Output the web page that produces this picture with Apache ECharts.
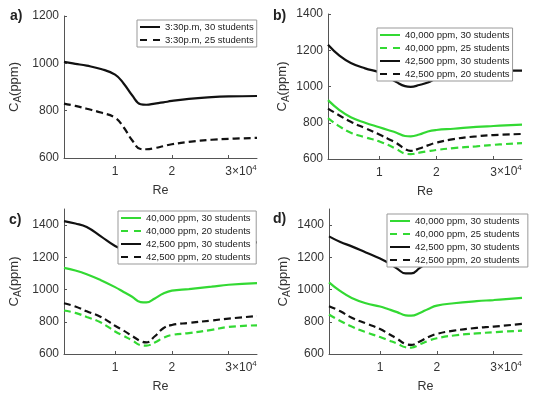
<!DOCTYPE html>
<html><head><meta charset="utf-8">
<script src="https://cdn.jsdelivr.net/npm/echarts@6/dist/echarts.min.js"></script>
<style>html,body{margin:0;padding:0;background:#fff}#c{width:550px;height:396px}</style>
</head><body><div id="c"></div>
<script>
// Re values in units of 10^4
const reE4 = [0.1,0.3,0.5,0.75,1.0,1.15,1.3,1.45,1.55,1.7,1.85,2.0,2.3,2.7,3.0,3.5];
const xTicks = [1,2,3];

// panel a
const a_30 = [1006,998,990,976,952,915,865,827,825,830,835,841,850,857,860,862];
const a_25 = [830,820,808,792,770,730,675,638,637,642,650,658,668,677,681,685];
// panel b
const b_g30 = [925,870,830,800,775,760,745,727,725,735,752,760,767,777,782,790];
const b_g25 = [825,780,745,720,697,678,655,630,627,635,643,650,660,670,678,688];
const b_k30 = [1230,1170,1130,1100,1078,1052,1024,1002,998,1008,1022,1045,1072,1085,1088,1088];
const b_k20 = [878,840,805,770,735,712,688,655,645,658,675,690,710,725,732,738];
// panel c
const c_g30 = [1135,1118,1095,1058,1015,985,955,922,920,945,975,993,1003,1018,1030,1040];
const c_g20 = [870,855,830,795,740,712,685,655,652,672,700,718,730,750,768,778];
const c_k30 = [1425,1410,1388,1330,1270,1250,1238,1228,1228,1245,1265,1275,1283,1288,1290,1293];
const c_k20 = [915,895,865,830,775,745,712,680,672,710,760,780,793,808,820,835];
// panel d
const d_g30 = [1045,990,948,915,895,878,860,840,838,855,880,900,915,928,935,948];
const d_g25 = [845,805,770,735,705,685,665,642,640,660,682,698,715,728,735,745];
const d_k30 = [1330,1295,1268,1230,1192,1165,1130,1100,1100,1135,1170,1195,1210,1218,1222,1228];
const d_k20 = [897,865,825,790,755,725,695,662,657,678,705,725,745,762,770,787];

const GREEN = '#33d933', BLACK = '#111111';
const FONT = 'Liberation Sans, Arial, sans-serif';
const pts = ys => reE4.map((x,i)=>[x, ys[i]]);

const grids = [
  {left:64, top:16, width:193, height:142},
  {left:328, top:14, width:194, height:145},
  {left:64, top:209, width:193, height:145},
  {left:329, top:209, width:193, height:145}
];
const yRanges = [[600,1200],[600,1400],[600,1500],[600,1500]];
const nameGaps = [41,37,41,37];

const xAxes = grids.map((g,i)=>({
  type:'value', gridIndex:i, min:0.1, max:3.5,
  name:'Re', nameLocation:'middle', nameGap:26,
  nameTextStyle:{fontFamily:FONT, fontSize:12.5, color:'#333'},
  axisLine:{lineStyle:{color:'#555', width:1}},
  axisTick:{inside:true, length:3, customValues:xTicks, lineStyle:{color:'#555'}},
  axisLabel:{customValues:xTicks, fontFamily:FONT, fontSize:12, color:'#333', margin:8,
    formatter: v => String(v)},
  splitLine:{show:false}
}));
const yAxes = grids.map((g,i)=>({
  type:'value', gridIndex:i, min:yRanges[i][0], max:yRanges[i][1], interval:200,
  name:'{c|C}{s|A}{c|(ppm)}', nameLocation:'middle', nameGap:nameGaps[i], nameRotate:90,
  nameTextStyle:{rich:{
    c:{fontFamily:FONT, fontSize:13, color:'#333', lineHeight:17},
    s:{fontFamily:FONT, fontSize:10, color:'#333', verticalAlign:'bottom', lineHeight:17, padding:[6,0,0,0]}
  }},
  axisLine:{show:true, lineStyle:{color:'#555', width:1}},
  axisTick:{show:true, inside:true, length:3, lineStyle:{color:'#555'}},
  axisLabel:{fontFamily:FONT, fontSize:12, color:'#333', margin:5, showMaxLabel: i>=2 ? false : true,
    formatter: v => String(v)},
  splitLine:{show:false}
}));

function line(name, idx, ys, color, dashed){
  return {type:'line', name, xAxisIndex:idx, yAxisIndex:idx, data:pts(ys),
    symbol:'none', smooth:0.45,
    lineStyle:{color, width:2.2, type: dashed ? [7,4] : 'solid'},
    itemStyle:{color}};
}
const series = [
  line('3:30p.m, 30 students',0,a_30,BLACK,false),
  line('3:30p.m, 25 students',0,a_25,BLACK,true),
  line('40,000 ppm, 30 students',1,b_g30,GREEN,false),
  line('40,000 ppm, 25 students',1,b_g25,GREEN,true),
  line('42,500 ppm, 30 students',1,b_k30,BLACK,false),
  line('42,500 ppm, 20 students',1,b_k20,BLACK,true),
  line('40,000 ppm, 30 students ',2,c_g30,GREEN,false),
  line('40,000 ppm, 20 students ',2,c_g20,GREEN,true),
  line('42,500 ppm, 30 students ',2,c_k30,BLACK,false),
  line('42,500 ppm, 20 students ',2,c_k20,BLACK,true),
  line('40,000 ppm, 30 students  ',3,d_g30,GREEN,false),
  line('40,000 ppm, 25 students  ',3,d_g25,GREEN,true),
  line('42,500 ppm, 30 students  ',3,d_k30,BLACK,false),
  line('42,500 ppm, 20 students  ',3,d_k20,BLACK,true)
];
const legendPos = [[137,20],[377,28],[118,211],[387,214]];
const legendSeries = [series.slice(0,2), series.slice(2,6), series.slice(6,10), series.slice(10,14)];
const legends = legendSeries.map((ss,i)=>({
  orient:'vertical', left:legendPos[i][0], top:legendPos[i][1],
  data: ss.map(s=>({name:s.name,
    itemStyle:{opacity:0},
    lineStyle:{color:s.lineStyle.color, width:2, type: s.lineStyle.type==='solid' ? 'solid' : [7,6]}})),
  selectedMode:false,
  itemWidth:20, itemHeight:8, itemGap:3, padding:[2,3,2,2],
  borderColor:'#999', borderWidth:1, backgroundColor:'#fff',
  textStyle:{fontFamily:FONT, fontSize:9.5, color:'#222'}
}));

const panelLabels = [['a)',10,9],['b)',273,9],['c)',9,213],['d)',273,212]];
const expPos = [[232,164],[497,164],[232,360],[497,360]];
const graphics = [];
panelLabels.forEach(p=>graphics.push({type:'text', left:p[1], top:p[2],
  style:{text:p[0], font:'bold 14px '+FONT, fill:'#222'}}));
expPos.forEach(p=>graphics.push({type:'text', left:p[0], top:p[1],
  style:{text:'×10{s|4}', font:'12px '+FONT, fill:'#333',
    rich:{s:{fontSize:8, fontFamily:FONT, fill:'#333', verticalAlign:'top', padding:[0,0,8,0]}}}}));

const chart = echarts.init(document.getElementById('c'), null, {renderer:'canvas'});
chart.setOption({
  animation:false, backgroundColor:'#fff',
  grid: grids, xAxis: xAxes, yAxis: yAxes, series, legend: legends, graphic: graphics
});
</script></body></html>
